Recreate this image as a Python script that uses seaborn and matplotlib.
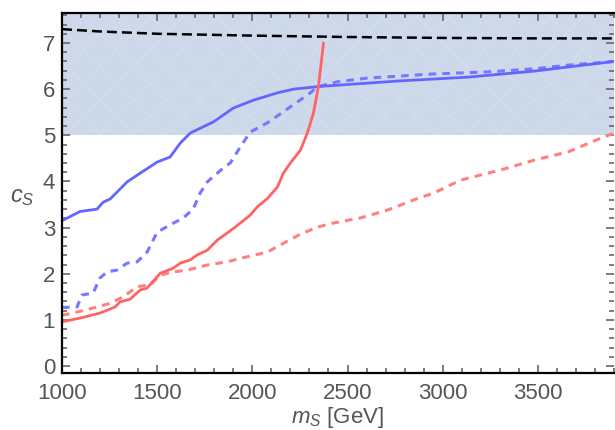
import numpy as np
import pandas as pd
import matplotlib
matplotlib.use("Agg")
import matplotlib.pyplot as plt
from matplotlib.ticker import MultipleLocator
import seaborn as sns

# curves (m_S in GeV, c_S)
black_m = [1000, 1200, 1500, 2000, 2500, 3000, 3500, 3900]
black_c = [7.30, 7.25, 7.20, 7.16, 7.13, 7.11, 7.10, 7.10]

blue_m = [1000, 1095, 1184, 1216, 1253, 1342, 1411, 1500, 1568, 1621, 1674, 1795,
          1900, 2005, 2132, 2216, 2358, 2779, 3132, 3479, 3658, 3900]
blue_c = [3.15, 3.35, 3.40, 3.55, 3.62, 3.99, 4.18, 4.42, 4.53, 4.83, 5.05, 5.29,
          5.59, 5.76, 5.92, 6.00, 6.06, 6.18, 6.26, 6.39, 6.48, 6.60]

blue_d_m = [1000, 1079, 1105, 1163, 1200, 1237, 1289, 1342, 1395, 1447, 1500, 1568,
            1637, 1689, 1726, 1763, 1847, 1884, 1937, 1989, 2079, 2163, 2253, 2305,
            2342, 2447, 2605, 2953, 3216, 3479, 3658, 3900]
blue_d_c = [1.27, 1.28, 1.54, 1.58, 1.91, 2.04, 2.08, 2.23, 2.26, 2.47, 2.90, 3.06,
            3.21, 3.40, 3.75, 3.99, 4.29, 4.40, 4.75, 5.07, 5.27, 5.51, 5.77, 5.92,
            6.05, 6.16, 6.24, 6.33, 6.37, 6.44, 6.52, 6.60]

red_m = [1000, 1095, 1200, 1279, 1305, 1358, 1411, 1447, 1516, 1584, 1621, 1674,
         1711, 1763, 1816, 1900, 1989, 2026, 2079, 2132, 2163, 2200, 2253, 2289,
         2321, 2347, 2374]
red_c = [0.96, 1.04, 1.15, 1.28, 1.39, 1.45, 1.65, 1.69, 2.01, 2.12, 2.23, 2.30,
         2.41, 2.51, 2.73, 2.98, 3.27, 3.45, 3.63, 3.88, 4.18, 4.40, 4.68, 5.05,
         5.48, 6.05, 7.00]

red_d_m = [1000, 1079, 1184, 1253, 1321, 1395, 1463, 1516, 1584, 1658, 1763, 1868,
           1974, 2079, 2163, 2253, 2342, 2426, 2568, 2711, 2847, 2953, 3095, 3305,
           3479, 3658, 3779, 3900]
red_d_c = [1.10, 1.17, 1.28, 1.36, 1.50, 1.72, 1.76, 1.97, 2.04, 2.08, 2.19, 2.26,
           2.37, 2.47, 2.66, 2.86, 3.01, 3.10, 3.21, 3.38, 3.60, 3.75, 4.03, 4.25,
           4.46, 4.64, 4.85, 5.05]

excluded_from = 5.0

sns.set_style("white")
plt.rcParams["font.family"] = ["Liberation Sans", "DejaVu Sans"]
plt.rcParams["mathtext.fontset"] = "custom"
plt.rcParams["mathtext.it"] = "Liberation Sans:italic"
plt.rcParams["mathtext.rm"] = "Liberation Sans"
plt.rcParams["hatch.linewidth"] = 0.5

fig = plt.figure(figsize=(6.15, 4.30), dpi=100)
ax = fig.add_axes([62 / 615, 1 - 373 / 430, 552 / 615, 360 / 430])

# excluded band, with a faint mesh like the original
ax.axhspan(excluded_from, 8, facecolor="#cdd9ea", edgecolor=(1, 1, 1, 0.18),
           hatch="x", zorder=0, lw=0)

sns.lineplot(x=black_m, y=black_c, ax=ax, color="black", lw=1.8,
             linestyle=(0, (4, 2)), sort=False)
sns.lineplot(x=red_d_m, y=red_d_c, ax=ax, color="#ff8080", lw=2.2,
             linestyle=(0, (2.5, 2)), sort=False)
sns.lineplot(x=blue_d_m, y=blue_d_c, ax=ax, color="#7777ff", lw=2.2,
             linestyle=(0, (2.5, 2)), sort=False)
sns.lineplot(x=blue_m, y=blue_c, ax=ax, color="#6464ff", lw=2.0, sort=False)
sns.lineplot(x=red_m, y=red_c, ax=ax, color="#ff6464", lw=2.0, sort=False)

ax.set_xlim(1000, 3900)
ax.set_ylim(-0.15, 7.65)
ax.xaxis.set_major_locator(MultipleLocator(500))
ax.xaxis.set_minor_locator(MultipleLocator(100))
ax.yaxis.set_major_locator(MultipleLocator(1))
ax.yaxis.set_minor_locator(MultipleLocator(0.2))
ax.tick_params(which="both", direction="in", left=True, bottom=True, top=True,
               right=True, color="#666666", labelcolor="#555555", labelsize=16,
               width=1.2)
ax.tick_params(which="major", length=6)
ax.tick_params(which="minor", length=3.5)
ax.tick_params(axis="x", pad=7)
ax.tick_params(axis="y", pad=5)
for side in ["left", "bottom", "top"]:
    ax.spines[side].set_color("black")
    ax.spines[side].set_linewidth(1.6)
ax.spines["right"].set_visible(False)

ax.set_xlabel(r"$m_S$ [GeV]", fontsize=16, color="#555555", labelpad=1)
ax.set_ylabel(r"$c_S$", fontsize=17, color="#555555", rotation=0,
              va="center", ha="center")
ax.yaxis.set_label_coords(-0.072, 0.49)

fig.savefig("out.png", dpi=100)
